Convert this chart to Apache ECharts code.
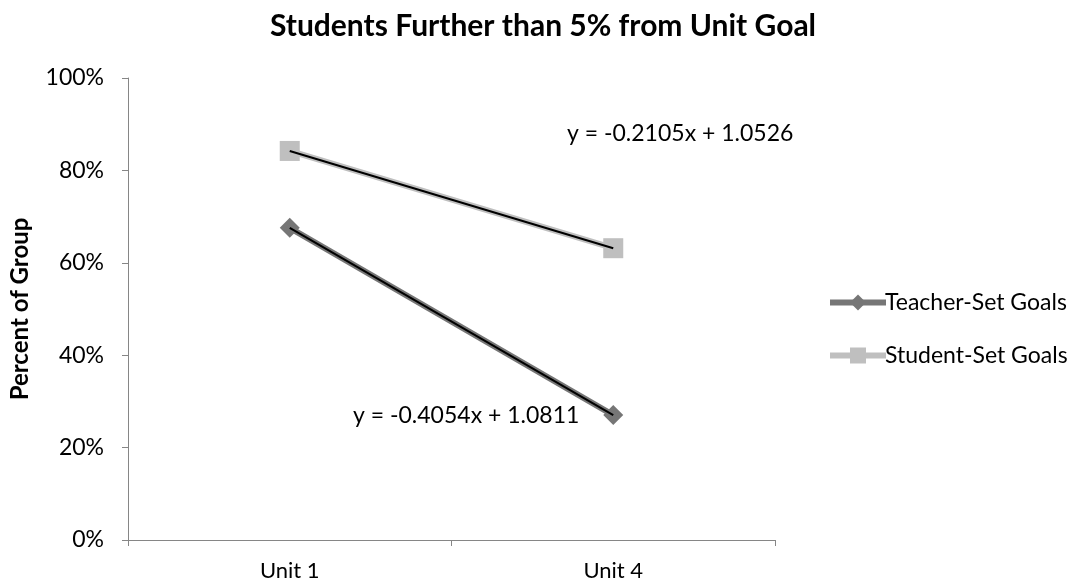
<!DOCTYPE html>
<html>
<head>
<meta charset="utf-8">
<script src="https://cdn.jsdelivr.net/npm/echarts@6/dist/echarts.min.js"></script>
<style>
  html, body { margin: 0; padding: 0; background: #fff; }
  #chart { width: 1081px; height: 586px; }
</style>
</head>
<body>
<div id="chart"></div>
<script>
// Chart data
const categories = ['Unit 1', 'Unit 4'];
const teacherValues = [0.6757, 0.2703];
const studentValues = [0.8421, 0.6316];
// Linear trendline coefficients (x = 1, 2 for the categories)
const teacherTrend = { slope: -0.4054, intercept: 1.0811 };
const studentTrend = { slope: -0.2105, intercept: 1.0526 };

const FONT = 'Lato, "Open Sans", sans-serif';
const TEACHER_COLOR = '#767676';
const STUDENT_COLOR = '#bfbfbf';

function trendPoints(t) {
  return categories.map((c, i) => +(t.slope * (i + 1) + t.intercept).toFixed(4));
}
function eqText(t) {
  return 'y = ' + t.slope.toFixed(4) + 'x + ' + t.intercept.toFixed(4);
}

const chart = echarts.init(document.getElementById('chart'));
chart.setOption({
  animation: false,
  backgroundColor: '#fff',
  title: {
    text: 'Students Further than 5% from Unit Goal',
    left: 538, top: 6, textAlign: 'center',
    textStyle: { fontFamily: FONT, fontWeight: 'bold', fontSize: 30, color: '#000' }
  },
  grid: { left: 125, right: 306, top: 78, bottom: 46 },
  legend: {
    orient: 'vertical',
    left: 822, top: 286,
    itemWidth: 56, itemHeight: 20, itemGap: 30,
    textStyle: { fontFamily: FONT, fontSize: 23, color: '#000', padding: [0, 0, 0, -6] },
    data: [
      { name: 'Teacher-Set Goals', itemStyle: { color: TEACHER_COLOR }, lineStyle: { color: TEACHER_COLOR, width: 6 } },
      { name: 'Student-Set Goals', itemStyle: { color: STUDENT_COLOR }, lineStyle: { color: STUDENT_COLOR, width: 6 } }
    ]
  },
  xAxis: {
    type: 'category',
    data: categories,
    boundaryGap: true,
    axisLine: { lineStyle: { color: '#868686', width: 1 } },
    axisTick: { show: true, length: 6, lineStyle: { color: '#868686' } },
    axisLabel: { fontFamily: FONT, fontSize: 22, color: '#000', margin: 20 }
  },
  yAxis: {
    type: 'value',
    min: 0, max: 1, interval: 0.2,
    name: 'Percent of Group',
    nameLocation: 'middle',
    nameGap: 96,
    nameTextStyle: { fontFamily: FONT, fontWeight: 'bold', fontSize: 24, color: '#000' },
    axisLine: { show: true, lineStyle: { color: '#868686', width: 1 } },
    axisTick: { show: true, length: 6, lineStyle: { color: '#868686' } },
    splitLine: { show: false },
    axisLabel: {
      fontFamily: FONT, fontSize: 23, color: '#000', margin: 24,
      formatter: v => Math.round(v * 100) + '%'
    }
  },
  series: [
    {
      name: 'Teacher-Set Goals',
      type: 'line',
      data: teacherValues,
      symbol: 'diamond',
      symbolSize: 20,
      itemStyle: { color: TEACHER_COLOR },
      lineStyle: { color: TEACHER_COLOR, width: 6 },
      z: 2
    },
    {
      name: 'Student-Set Goals',
      type: 'line',
      data: studentValues,
      symbol: 'rect',
      symbolSize: 20,
      itemStyle: { color: STUDENT_COLOR },
      lineStyle: { color: STUDENT_COLOR, width: 6 },
      z: 2
    },
    {
      name: 'Teacher trend',
      type: 'line',
      data: trendPoints(teacherTrend),
      symbol: 'none',
      lineStyle: { color: '#000', width: 2 },
      z: 5,
      silent: true
    },
    {
      name: 'Student trend',
      type: 'line',
      data: trendPoints(studentTrend),
      symbol: 'none',
      lineStyle: { color: '#000', width: 2 },
      z: 5,
      silent: true
    }
  ],
  graphic: [
    {
      type: 'text', x: 567, y: 134,
      style: { text: eqText(studentTrend), fontFamily: FONT, fontSize: 23, fill: '#000', verticalAlign: 'middle' }
    },
    {
      type: 'text', x: 353, y: 416,
      style: { text: eqText(teacherTrend), fontFamily: FONT, fontSize: 23, fill: '#000', verticalAlign: 'middle' }
    }
  ]
});
</script>
</body>
</html>
